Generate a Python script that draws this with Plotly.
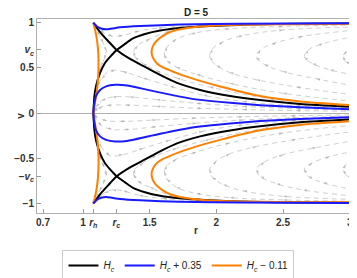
import plotly.graph_objects as go

# ---------------- data (upper half, v >= 0) ----------------
R_H = 1.077
R_C = 1.25
V_C = 0.70

# black separatrices (H_c)
black_a_r = [1.077, 1.128, 1.188, 1.253, 1.353, 1.465, 1.578, 1.705, 1.878, 2.103, 2.328, 2.628, 3.04]
black_a_v = [1.0, 0.898, 0.799, 0.699, 0.600, 0.512, 0.423, 0.335, 0.257, 0.191, 0.145, 0.102, 0.068]
black_b_r = [1.077, 1.079, 1.085, 1.098, 1.128, 1.165, 1.203, 1.253, 1.315, 1.375, 1.465, 1.578, 1.728, 1.953, 2.253, 2.628, 3.04]
black_b_v = [0.0, 0.036, 0.180, 0.302, 0.445, 0.555, 0.622, 0.699, 0.766, 0.827, 0.876, 0.915, 0.943, 0.965, 0.981, 0.989, 0.992]

# blue (H_c + 0.35)
blue_top_r = [1.077, 1.105, 1.135, 1.173, 1.218, 1.278, 1.428, 1.728, 2.178, 3.04]
blue_top_v = [1.0, 0.959, 0.937, 0.928, 0.937, 0.950, 0.965, 0.981, 0.989, 0.994]
blue_low_r = [1.077, 1.083, 1.098, 1.128, 1.173, 1.240, 1.330, 1.503, 1.728, 1.878, 2.103, 2.328, 2.628, 3.04]
blue_low_v = [0.0, 0.092, 0.191, 0.257, 0.296, 0.313, 0.307, 0.252, 0.183, 0.147, 0.114, 0.088, 0.064, 0.042]

# orange (H_c - 0.11)
orange_left_r = [1.077, 1.090, 1.105, 1.115, 1.116, 1.109, 1.094, 1.083, 1.077]
orange_left_v = [1.0, 0.925, 0.810, 0.644, 0.478, 0.313, 0.147, 0.059, 0.0]
orange_loop_r = [3.04, 2.628, 2.328, 2.028, 1.878, 1.728, 1.653, 1.600, 1.555, 1.525, 1.514,
                 1.525, 1.548, 1.593, 1.653, 1.728, 1.878, 2.103, 2.478, 3.04]
orange_loop_v = [0.086, 0.130, 0.190, 0.296, 0.357, 0.429, 0.473, 0.506, 0.550, 0.611, 0.677,
                 0.744, 0.793, 0.849, 0.898, 0.928, 0.959, 0.976, 0.983, 0.987]

# gray stream lines (upper half), listed in the direction of the flow
streams_upper = [
    # loops right of the critical point
    ([3.04, 2.4, 1.95, 1.7, 1.55, 1.45, 1.39, 1.38, 1.41, 1.5, 1.65, 1.85, 2.2, 2.6, 3.04],
     [0.076, 0.16, 0.29, 0.39, 0.47, 0.55, 0.62, 0.68, 0.75, 0.82, 0.905, 0.953, 0.978, 0.985, 0.99]),
    ([3.04, 2.5, 2.1, 1.85, 1.7, 1.63, 1.61, 1.63, 1.7, 1.85, 2.1, 2.5, 3.04],
     [0.13, 0.22, 0.33, 0.43, 0.51, 0.58, 0.65, 0.73, 0.82, 0.89, 0.935, 0.96, 0.975]),
    ([3.04, 2.6, 2.3, 2.1, 2.0, 1.95, 1.97, 2.05, 2.2, 2.5, 3.04],
     [0.2, 0.29, 0.37, 0.45, 0.53, 0.62, 0.71, 0.79, 0.86, 0.92, 0.955]),
    ([3.04, 2.75, 2.5, 2.36, 2.3, 2.33, 2.45, 2.65, 3.04],
     [0.3, 0.38, 0.46, 0.54, 0.62, 0.7, 0.78, 0.85, 0.92]),
    ([3.04, 2.85, 2.72, 2.66, 2.69, 2.8, 3.04],
     [0.42, 0.48, 0.55, 0.62, 0.7, 0.77, 0.85]),
    ([3.04, 2.97, 2.95, 2.98, 3.04],
     [0.52, 0.57, 0.63, 0.69, 0.74]),
    # below the critical point
    ([3.04, 2.6, 2.2, 1.85, 1.55, 1.32, 1.18, 1.11, 1.085],
     [0.02, 0.028, 0.04, 0.055, 0.075, 0.09, 0.085, 0.05, 0.015]),
    ([3.04, 2.6, 2.2, 1.85, 1.55, 1.35, 1.22, 1.14, 1.1, 1.085],
     [0.03, 0.05, 0.075, 0.11, 0.15, 0.18, 0.18, 0.14, 0.07, 0.02]),
    ([3.04, 2.6, 2.2, 1.9, 1.65, 1.45, 1.3, 1.2, 1.14, 1.11, 1.095, 1.085],
     [0.054, 0.082, 0.13, 0.2, 0.3, 0.39, 0.46, 0.47, 0.38, 0.3, 0.2, 0.08]),
    # above the critical point
    ([1.085, 1.11, 1.16, 1.22, 1.3, 1.42, 1.6, 1.9, 2.4, 3.04],
     [0.985, 0.95, 0.885, 0.85, 0.86, 0.91, 0.945, 0.972, 0.985, 0.991]),
    # left of the critical point
    ([1.082, 1.1, 1.125, 1.15, 1.175, 1.16, 1.135, 1.12],
     [0.98, 0.93, 0.86, 0.78, 0.69, 0.6, 0.52, 0.45]),
]

x_tick_vals = [0.7, 1.0, R_H, R_C, 1.5, 2.0, 2.5, 3.0]
x_tick_text = ["0.7", "1", "<i>r</i><sub><i>h</i></sub>", "<i>r</i><sub><i>c</i></sub>", "1.5", "2", "2.5", "3"]
y_tick_vals = [-1.0, -V_C, -0.5, 0.0, 0.5, V_C, 1.0]
y_tick_text = ["−1", "−<i>v</i><sub><i>c</i></sub>", "−0.5", "0", "0.5", "<i>v</i><sub><i>c</i></sub>", "1"]

legend_names = ["<i>H</i><sub><i>c</i></sub>", "<i>H</i><sub><i>c</i></sub> + 0.35", "<i>H</i><sub><i>c</i></sub> − 0.11"]
colors = ["#000000", "#1a1aff", "#ff8000"]

# ---------------- figure ----------------
fig = go.Figure()

def neg(vals):
    return [-x for x in vals]

# stream field (mirror in v, reversed direction in lower half)
for sr, sv in streams_upper:
    for rr, vv in ((sr, sv), (sr[::-1], neg(sv)[::-1])):
        sizes = [0] + [4] * (len(rr) - 1)
        fig.add_trace(go.Scatter(
            x=rr, y=vv, mode="lines+markers", showlegend=False, hoverinfo="skip",
            line=dict(color="#c2c2c2", width=0.8, dash="5px,4px", shape="spline"),
            marker=dict(symbol="arrow", size=sizes, color="#a6a6a6", angleref="previous",
                        line=dict(width=0)),
        ))

def add_curve(r, v, idx, show):
    fig.add_trace(go.Scatter(
        x=r, y=v, mode="lines", name=legend_names[idx], legendgroup=str(idx),
        showlegend=show, legendrank=idx + 1, hoverinfo="skip",
        line=dict(color=colors[idx], width=2, shape="spline", smoothing=0.6),
    ))

# black
for k, (r, v) in enumerate([(black_a_r, black_a_v), (black_b_r, black_b_v)]):
    add_curve(r, v, 0, k == 0)
    add_curve(r, neg(v), 0, False)
# orange
for k, (r, v) in enumerate([(orange_left_r, orange_left_v), (orange_loop_r, orange_loop_v)]):
    add_curve(r, v, 2, k == 0)
    add_curve(r, neg(v), 2, False)
# blue
for k, (r, v) in enumerate([(blue_top_r, blue_top_v), (blue_low_r, blue_low_v)]):
    add_curve(r, v, 1, k == 0)
    add_curve(r, neg(v), 1, False)

axis_common = dict(
    showgrid=False, ticks="inside", ticklen=4, tickcolor="#999999",
    showline=True, linecolor="#b0b0b0", linewidth=1, mirror=True, automargin=False,
    tickfont=dict(family="Liberation Sans, Arial, sans-serif", size=10, color="#333333", weight="bold"),
)

# the page adds an 8 px body margin, so the figure is 8 px smaller and shifted
fig.update_layout(
    width=349, height=270,
    margin=dict(l=29, r=2, t=11, b=65, autoexpand=False),
    paper_bgcolor="white", plot_bgcolor="white",
    xaxis=dict(range=[0.655, 3.04], tickmode="array", tickvals=x_tick_vals, ticktext=x_tick_text,
               zeroline=False, **axis_common),
    yaxis=dict(range=[-1.105, 1.042], tickmode="array", tickvals=y_tick_vals, ticktext=y_tick_text,
               zeroline=True, zerolinecolor="#b0b0b0", zerolinewidth=1, **axis_common),
    legend=dict(orientation="h", xref="container", yref="container", x=0.4885, xanchor="center",
                y=0.1037, yanchor="top", bordercolor="#cccccc", borderwidth=1,
                font=dict(family="Liberation Sans, Arial, sans-serif", size=10, color="#222222"),
                itemwidth=30, traceorder="normal"),
    annotations=[
        dict(text="<b>D = 5</b>", xref="paper", yref="paper", x=0.5, y=1.0, yshift=6.5, showarrow=False,
             yanchor="middle", font=dict(family="Liberation Sans, Arial, sans-serif", size=10, color="#222222")),
        dict(text="<b>r</b>", xref="paper", yref="paper", x=0.5, y=-0.13, showarrow=False,
             font=dict(family="Liberation Sans, Arial, sans-serif", size=10, color="#333333")),
        dict(text="<b>v</b>", xref="paper", yref="paper", x=-0.078, y=0.5, showarrow=False, textangle=-90,
             font=dict(family="Liberation Sans, Arial, sans-serif", size=10, color="#333333")),
    ],
)

fig.write_html("out.html")
